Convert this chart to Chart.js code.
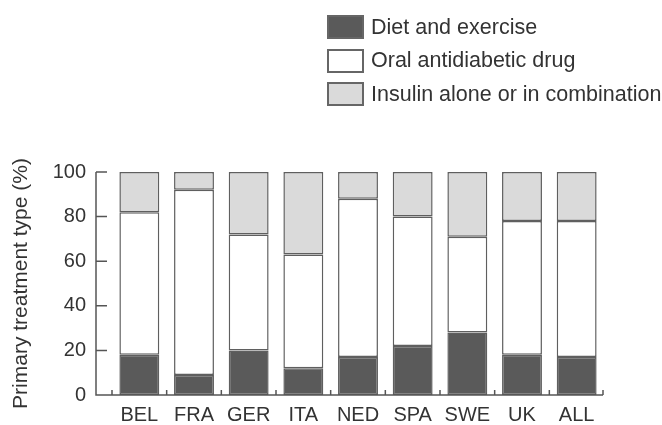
<!DOCTYPE html>
<html>
<head>
<meta charset="utf-8">
<script src="https://cdn.jsdelivr.net/npm/chart.js@4"></script>
<style>
  html, body { margin: 0; padding: 0; background: #fff; }
  #wrap { position: relative; width: 662px; height: 425px; }
  #legend { position: absolute; left: 327px; top: 15px; font-family: "Liberation Sans", Arial, sans-serif; font-size: 21.5px; color: #333; }
  #legend .item { display: flex; align-items: center; height: 24px; margin-bottom: 9.5px; }
  #legend .box { width: 33px; height: 20px; border: 2px solid #666; margin-right: 7px; box-sizing: content-box; }
</style>
</head>
<body>
<div id="wrap">
  <canvas id="grafico" width="662" height="425"></canvas>
  <div id="legend"></div>
</div>
<script>
  // categorias e valores (%)
  const paises = ['BEL', 'FRA', 'GER', 'ITA', 'NED', 'SPA', 'SWE', 'UK', 'ALL'];
  const dietaExercicio = [18, 9, 20, 12, 17, 22, 28, 18, 17];
  const antidiabeticoOral = [64, 83, 52, 51, 71, 58, 43, 60, 61];
  const insulina = [18, 8, 28, 37, 12, 20, 29, 22, 22];
  const ticksY = [0, 20, 40, 60, 80, 100];

  const corBorda = '#5f5f5f';

  // desenha os eixos como no original (eixo y deslocado, marcas para dentro)
  const eixosPlugin = {
    id: 'eixos',
    afterDraw(chart) {
      const { ctx, chartArea } = chart;
      const x = chart.scales.x;
      const y = chart.scales.y;
      const xAxis = chartArea.left - 16;
      const yBase = y.getPixelForValue(0);
      ctx.save();
      ctx.strokeStyle = '#555';
      ctx.lineWidth = 1.5;
      ctx.beginPath();
      ctx.moveTo(xAxis, y.getPixelForValue(100));
      ctx.lineTo(xAxis, yBase);
      ctx.lineTo(chartArea.right - 1, yBase);
      ticksY.forEach(v => {
        const py = y.getPixelForValue(v);
        ctx.moveTo(xAxis, py);
        ctx.lineTo(xAxis + 11, py);
      });
      // marcas entre as categorias
      const passo = x.getPixelForValue(1) - x.getPixelForValue(0);
      for (let i = 0; i <= paises.length; i++) {
        const px = Math.min(x.getPixelForValue(0) - passo / 2 + i * passo, chartArea.right - 1);
        ctx.moveTo(px, yBase);
        ctx.lineTo(px, yBase - 5);
      }
      ctx.stroke();
      ctx.restore();
    }
  };

  const data = {
    labels: paises,
    datasets: [
      { label: 'Diet and exercise', data: dietaExercicio, backgroundColor: '#5a5a5a' },
      { label: 'Oral antidiabetic drug', data: antidiabeticoOral, backgroundColor: '#ffffff' },
      { label: 'Insulin alone or in combination', data: insulina, backgroundColor: '#dadada' },
    ].map(d => Object.assign(d, {
      borderColor: corBorda,
      borderWidth: 1.5,
      borderSkipped: false,
      barPercentage: 0.73,
      categoryPercentage: 1,
    })),
  };

  const config = {
    type: 'bar',
    data: data,
    options: {
      responsive: false,
      animation: false,
      layout: { padding: { top: 172, right: 58, bottom: 0, left: 0 } },
      plugins: {
        legend: { display: false },
        tooltip: { enabled: false },
      },
      scales: {
        x: {
          stacked: true,
          afterFit(scale) { scale.height = 30; },
          grid: { display: false, drawTicks: false },
          border: { display: false },
          ticks: {
            color: '#333',
            padding: 8,
            font: { family: 'Liberation Sans', size: 20 },
          },
        },
        y: {
          stacked: true,
          min: 0,
          max: 100,
          afterFit(scale) {
            scale.width = 112;
            // o padding dos rótulos não deve empurrar a área do gráfico
            scale.paddingTop = 12;
            scale.paddingBottom = 12;
          },
          afterBuildTicks(scale) { scale.ticks = ticksY.map(v => ({ value: v })); },
          grid: { display: false, drawTicks: false },
          border: { display: false },
          ticks: {
            color: '#333',
            padding: 26,
            font: { family: 'Liberation Sans', size: 20 },
          },
          title: {
            display: true,
            text: 'Primary treatment type (%)',
            color: '#333',
            padding: { top: 9, bottom: 0 },
            font: { family: 'Liberation Sans', size: 21 },
          },
        },
      },
    },
    plugins: [eixosPlugin],
  };

  const ctx = document.getElementById('grafico').getContext('2d');
  const grafico = new Chart(ctx, config);

  // legenda em coluna, montada a partir dos datasets
  const legenda = document.getElementById('legend');
  grafico.data.datasets.forEach(ds => {
    const item = document.createElement('div');
    item.className = 'item';
    const caixa = document.createElement('span');
    caixa.className = 'box';
    caixa.style.background = ds.backgroundColor;
    const texto = document.createElement('span');
    texto.textContent = ds.label;
    item.appendChild(caixa);
    item.appendChild(texto);
    legenda.appendChild(item);
  });
</script>
</body>
</html>
